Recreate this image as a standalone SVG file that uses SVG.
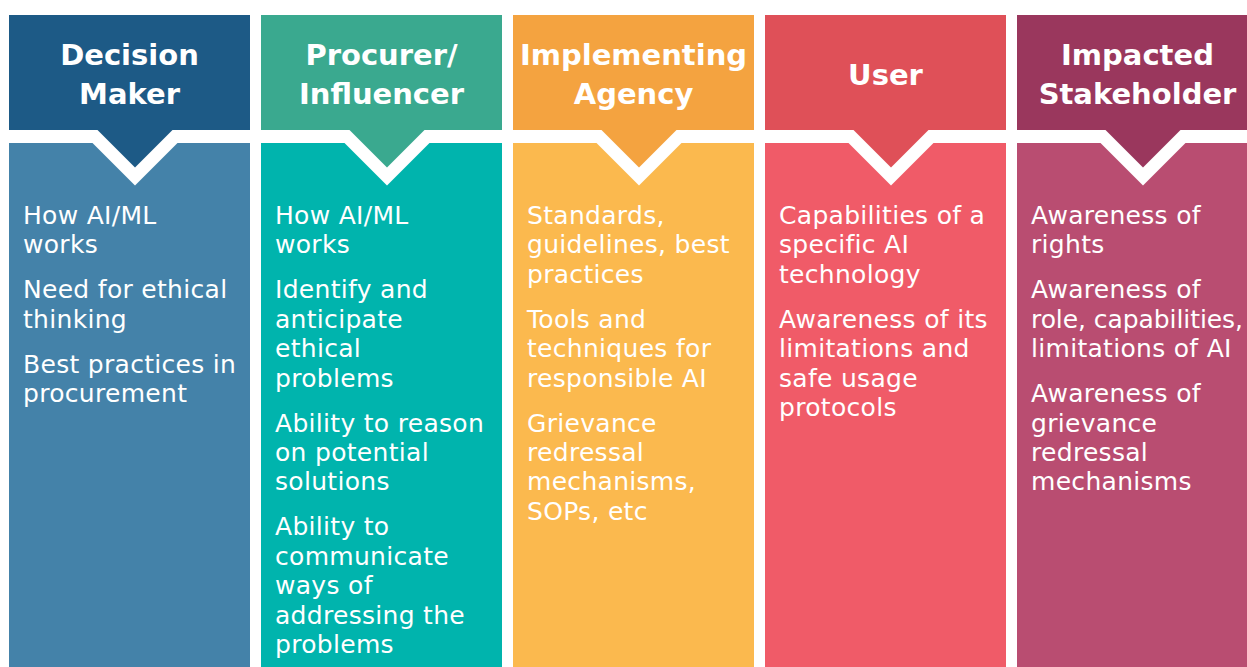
<svg xmlns="http://www.w3.org/2000/svg" width="1247" height="667" viewBox="0 0 1247 667">
<style>
.hd{font-family:"DejaVu Sans","Liberation Sans",sans-serif;font-weight:bold;font-size:29px;fill:#fff;text-anchor:middle}
.bd{font-family:"DejaVu Sans","Liberation Sans",sans-serif;font-weight:normal;font-size:25px;letter-spacing:0.3px;fill:#fff}
.tight{letter-spacing:0}
.notch{fill:#fff}
</style>
<rect width="1247" height="667" fill="#fff"/>
<g id="decision-maker">
<rect x="9" y="143" width="241" height="524" fill="#4482A9"/>
<polygon class="notch" points="92.5,143 135,185.5 177.5,143"/>
<path d="M9,15H250V130H172.5L135,167.5L97.5,130H9Z" fill="#1D5A86"/>
<text class="hd" x="129.5" y="65">Decision</text>
<text class="hd" x="129.5" y="104">Maker</text>
<text class="bd" x="23" y="224"><tspan x="23">How AI/ML</tspan><tspan x="23" dy="29.4">works</tspan></text>
<text class="bd" x="23" y="298.4"><tspan x="23">Need for ethical</tspan><tspan x="23" dy="29.4">thinking</tspan></text>
<text class="bd" x="23" y="372.8"><tspan x="23">Best practices in</tspan><tspan x="23" dy="29.4">procurement</tspan></text>
</g>
<g id="procurer-influencer">
<rect x="261" y="143" width="241" height="524" fill="#00B4AD"/>
<polygon class="notch" points="344.5,143 387,185.5 429.5,143"/>
<path d="M261,15H502V130H424.5L387,167.5L349.5,130H261Z" fill="#3AA98F"/>
<text class="hd" x="381.5" y="65">Procurer/</text>
<text class="hd" x="381.5" y="104">Influencer</text>
<text class="bd" x="275" y="224"><tspan x="275">How AI/ML</tspan><tspan x="275" dy="29.4">works</tspan></text>
<text class="bd" x="275" y="298.4"><tspan x="275">Identify and</tspan><tspan x="275" dy="29.4">anticipate</tspan><tspan x="275" dy="29.4">ethical</tspan><tspan x="275" dy="29.4">problems</tspan></text>
<text class="bd" x="275" y="431.6"><tspan x="275">Ability to reason</tspan><tspan x="275" dy="29.4">on potential</tspan><tspan x="275" dy="29.4">solutions</tspan></text>
<text class="bd" x="275" y="535.4"><tspan x="275">Ability to</tspan><tspan x="275" dy="29.4">communicate</tspan><tspan x="275" dy="29.4">ways of</tspan><tspan x="275" dy="29.4">addressing the</tspan><tspan x="275" dy="29.4">problems</tspan></text>
</g>
<g id="implementing-agency">
<rect x="513" y="143" width="241" height="524" fill="#FBB94E"/>
<polygon class="notch" points="596.5,143 639,185.5 681.5,143"/>
<path d="M513,15H754V130H676.5L639,167.5L601.5,130H513Z" fill="#F4A340"/>
<text class="hd" x="633.5" y="65">Implementing</text>
<text class="hd" x="633.5" y="104">Agency</text>
<text class="bd" x="527" y="224"><tspan x="527">Standards,</tspan><tspan x="527" dy="29.4">guidelines, best</tspan><tspan x="527" dy="29.4">practices</tspan></text>
<text class="bd" x="527" y="327.8"><tspan x="527">Tools and</tspan><tspan x="527" dy="29.4">techniques for</tspan><tspan x="527" dy="29.4">responsible AI</tspan></text>
<text class="bd" x="527" y="431.6"><tspan x="527">Grievance</tspan><tspan x="527" dy="29.4">redressal</tspan><tspan x="527" dy="29.4">mechanisms,</tspan><tspan x="527" dy="29.4">SOPs, etc</tspan></text>
</g>
<g id="user">
<rect x="765" y="143" width="241" height="524" fill="#F05B68"/>
<polygon class="notch" points="848.5,143 891,185.5 933.5,143"/>
<path d="M765,15H1006V130H928.5L891,167.5L853.5,130H765Z" fill="#DF5058"/>
<text class="hd" x="885.5" y="85">User</text>
<text class="bd" x="779" y="224"><tspan x="779">Capabilities of a</tspan><tspan x="779" dy="29.4">specific AI</tspan><tspan x="779" dy="29.4">technology</tspan></text>
<text class="bd" x="779" y="327.8"><tspan x="779">Awareness of its</tspan><tspan x="779" dy="29.4">limitations and</tspan><tspan x="779" dy="29.4">safe usage</tspan><tspan x="779" dy="29.4">protocols</tspan></text>
</g>
<g id="impacted-stakeholder">
<rect x="1017" y="143" width="241" height="524" fill="#B94D71"/>
<polygon class="notch" points="1100.5,143 1143,185.5 1185.5,143"/>
<path d="M1017,15H1258V130H1180.5L1143,167.5L1105.5,130H1017Z" fill="#9A375D"/>
<text class="hd" x="1137.5" y="65">Impacted</text>
<text class="hd" x="1137.5" y="104">Stakeholder</text>
<text class="bd" x="1031" y="224"><tspan x="1031">Awareness of</tspan><tspan x="1031" dy="29.4">rights</tspan></text>
<text class="bd" x="1031" y="298.4"><tspan x="1031">Awareness of</tspan><tspan x="1031" dy="29.4" class="tight" textLength="212" lengthAdjust="spacing">role, capabilities,</tspan><tspan x="1031" dy="29.4">limitations of AI</tspan></text>
<text class="bd" x="1031" y="402.2"><tspan x="1031">Awareness of</tspan><tspan x="1031" dy="29.4">grievance</tspan><tspan x="1031" dy="29.4">redressal</tspan><tspan x="1031" dy="29.4">mechanisms</tspan></text>
</g>
<g id="connectors"></g>
</svg>
